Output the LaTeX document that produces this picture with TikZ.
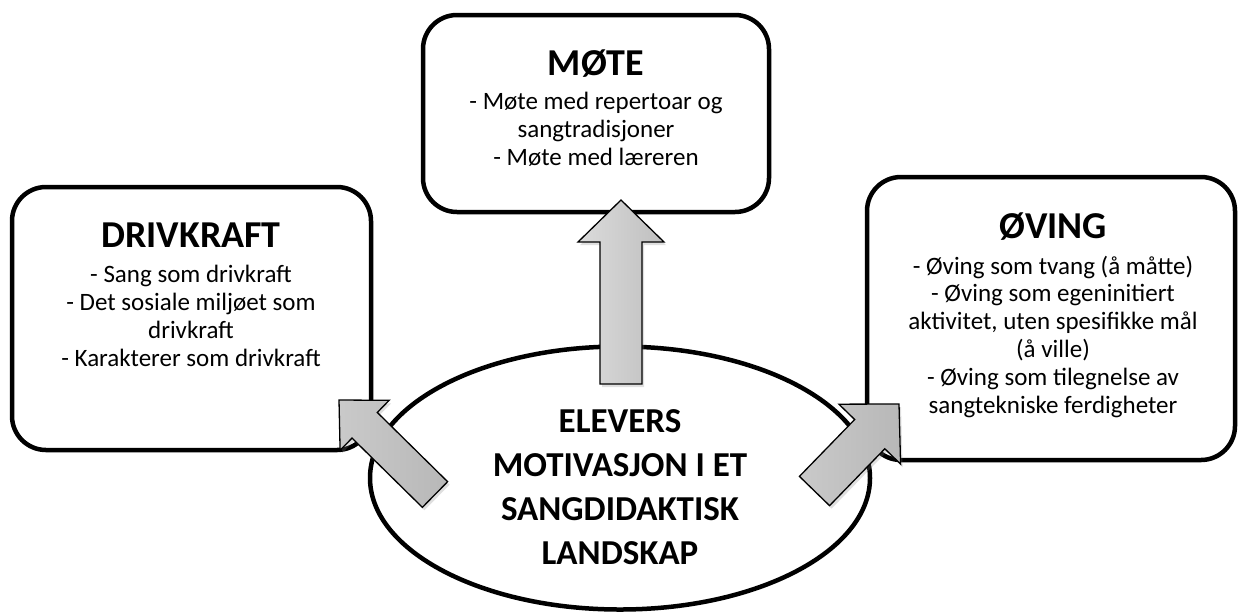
\documentclass[tikz,border=0pt]{standalone}
\usepackage{fontspec}
\setmainfont{Carlito}
\usetikzlibrary{shapes.geometric,calc,shadows}
\newcommand\blockarrow[6]{%
  \coordinate (#1h) at ($(#2)!#5!(#1)$);
  \path[#6] ($(#1)!#3!90:(#2)$) -- ($(#1)!#3!-90:(#2)$)
    -- ($(#1h)!#3!-90:(#2)$) -- ($(#1h)!#4!-90:(#2)$) -- (#2)
    -- ($(#1h)!#4!90:(#2)$) -- ($(#1h)!#3!90:(#2)$) -- cycle;
}
\begin{document}
\begin{tikzpicture}[x=1pt,y=-1pt,
  box/.style={rectangle, draw=black, line width=4.5pt, rounded corners=34pt, fill=white, inner sep=0pt},
  oval/.style={ellipse, draw=black, line width=4.5pt, fill=white, inner sep=0pt},
  titletext/.style={font=\fontsize{38}{44}\selectfont\bfseries, anchor=base, inner sep=0pt},
  bodytext/.style={font=\fontsize{25}{27.8}\selectfont, anchor=base, align=center, inner sep=0pt},
  centertext/.style={font=\fontsize{35}{44}\selectfont\bfseries, anchor=base, align=center, inner sep=0pt},
  blockarr/.style={draw=black, line width=1.3pt, line join=miter,
    drop shadow={opacity=0.25, shadow xshift=2pt, shadow yshift=-3pt}},
  uparr/.style={blockarr, left color=gray!28, right color=gray!50},
  diagarr/.style={blockarr, left color=gray!42, right color=gray!56}
]
\useasboundingbox (0,0) rectangle (1242,614);

% boxes and oval
\node[box, minimum width=359pt, minimum height=263pt] (drv) at (191.5,318.5) {};
\node[box, minimum width=346pt, minimum height=197pt] (mote) at (596,113.5) {};
\node[box, minimum width=368pt, minimum height=283pt] (oving) at (1051,318.5) {};
\node[oval, minimum width=500pt, minimum height=263pt] (elev) at (620,478) {};

% block arrows
\coordinate (upA) at (621,384);   \coordinate (upB) at (621,200);
\coordinate (lfA) at (435,494.5); \coordinate (lfB) at (339,400);
\coordinate (rtA) at (814.5,491); \coordinate (rtB) at (899,404);
\blockarrow{upA}{upB}{21pt}{43pt}{42pt}{uparr}
\blockarrow{lfA}{lfB}{18pt}{35pt}{36pt}{diagarr}
\blockarrow{rtA}{rtB}{21pt}{43pt}{42pt}{diagarr}

% texts (base anchor of a multi-line node = baseline of its last line)
\node[titletext] (drvT) at (191,247) {DRIVKRAFT};
\node[bodytext] (drvB) at (191,366) {- Sang som drivkraft\\- Det sosiale miljøet som\\drivkraft\\- Karakterer som drivkraft};
\node[titletext] (moteT) at (596,75) {MØTE};
\node[bodytext] (moteB) at (596,165.1) {- Møte med repertoar og\\sangtradisjoner\\- Møte med læreren};
\node[titletext] (ovingT) at (1053,238) {ØVING};
\node[bodytext] (ovingB) at (1053,413) {- Øving som tvang (å måtte)\\- Øving som egeninitiert\\aktivitet, uten spesifikke mål\\(å ville)\\- Øving som tilegnelse av\\sangtekniske ferdigheter};
\node[centertext] (elevT) at (620,564) {ELEVERS\\MOTIVASJON I ET\\SANGDIDAKTISK\\LANDSKAP};
\end{tikzpicture}
\end{document}
